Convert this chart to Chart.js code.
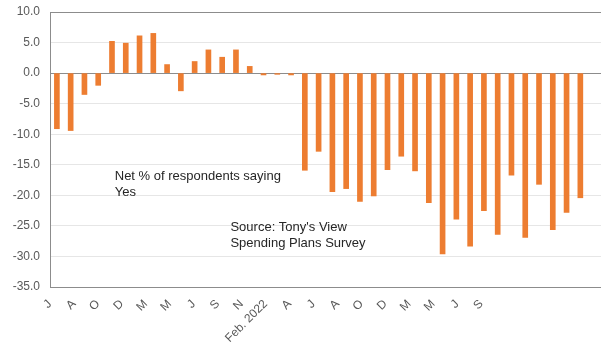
<!DOCTYPE html>
<html>
<head>
<meta charset="utf-8">
<script src="https://cdn.jsdelivr.net/npm/chart.js@4/dist/chart.umd.min.js"></script>
<style>
  html, body { margin: 0; padding: 0; background: #fff; }
  #wrap { width: 601px; height: 350px; }
</style>
</head>
<body>
<div id="wrap"><canvas id="myChart"></canvas></div>
<script>
// net % of respondents saying yes, one bar per survey period
const netYes = [
  -9.1, -9.4, -3.5, -2.0, 5.2, 4.9, 6.1, 6.5, 1.4, -2.9,
  1.9, 3.8, 2.6, 3.8, 1.1, -0.3, -0.2, -0.3, -15.9, -12.8,
  -19.4, -18.9, -21.0, -20.1, -15.8, -13.6, -16.0, -21.2, -29.6, -23.9,
  -28.3, -22.5, -26.4, -16.7, -26.9, -18.2, -25.6, -22.8, -20.4, null
]
const periods = netYes.map((_, i) => String(i + 1))
const tickLabels = [
  'J', 'A', 'O', 'D', 'M', 'M', 'J', 'S', 'N', 'Feb. 2022',
  'A', 'J', 'A', 'O', 'D', 'M', 'M', 'J', 'S', '', '', '', '', ''
]
const notes = [
  { lines: ['Net % of respondents saying', 'Yes'], x: 4.2, y: -16.9 },
  { lines: ["Source: Tony's View", 'Spending Plans Survey'], x: 12.6, y: -25.2 }
]

const notePlugin = {
  id: 'notes',
  afterDatasetsDraw(chart) {
    const { ctx, scales } = chart
    ctx.save()
    ctx.font = '13px "Liberation Sans", Arial, sans-serif'
    ctx.fillStyle = '#262626'
    ctx.textBaseline = 'middle'
    notes.forEach(n => {
      const px = scales.x.getPixelForValue(n.x)
      const py = scales.y.getPixelForValue(n.y)
      n.lines.forEach((t, i) => ctx.fillText(t, px, py + i * 16))
    })
    ctx.restore()
  }
}

const ctx = document.getElementById('myChart')
new Chart(ctx, {
  type: 'bar',
  data: {
    labels: periods,
    datasets: [{
      data: netYes,
      backgroundColor: '#ED7D31',
      barThickness: 5,
      xAxisID: 'x'
    }]
  },
  options: {
    responsive: true,
    maintainAspectRatio: false,
    animation: false,
    layout: { padding: { top: 12, right: 0, left: 0, bottom: 0 } },
    plugins: {
      legend: { display: false },
      tooltip: { enabled: false }
    },
    scales: {
      x: {
        display: false
      },
      x2: {
        type: 'category',
        labels: tickLabels,
        position: 'bottom',
        offset: false,
        grid: { display: false },
        border: { display: false },
        ticks: {
          autoSkip: false,
          minRotation: 45,
          maxRotation: 45,
          padding: 2,
          color: '#595959',
          font: { family: '"Liberation Sans", Arial, sans-serif', size: 12 }
        },
        afterFit: s => {
          s.height = 63
          s.paddingRight = 0
          s.paddingLeft = 0
        }
      },
      y: {
        min: -35,
        max: 10,
        ticks: {
          stepSize: 5,
          padding: 10,
          color: '#595959',
          font: { family: '"Liberation Sans", Arial, sans-serif', size: 12 },
          callback: v => v.toFixed(1)
        },
        grid: {
          drawTicks: false,
          color: c => (c.tick && [10, 0, -35].includes(c.tick.value)) ? '#8c8c8c' : '#e6e6e6'
        },
        border: { color: '#8c8c8c' },
        afterFit: s => {
          s.width = 50
          s.paddingTop = 0
          s.paddingBottom = 0
        }
      }
    }
  },
  plugins: [notePlugin]
})
</script>
</body>
</html>
